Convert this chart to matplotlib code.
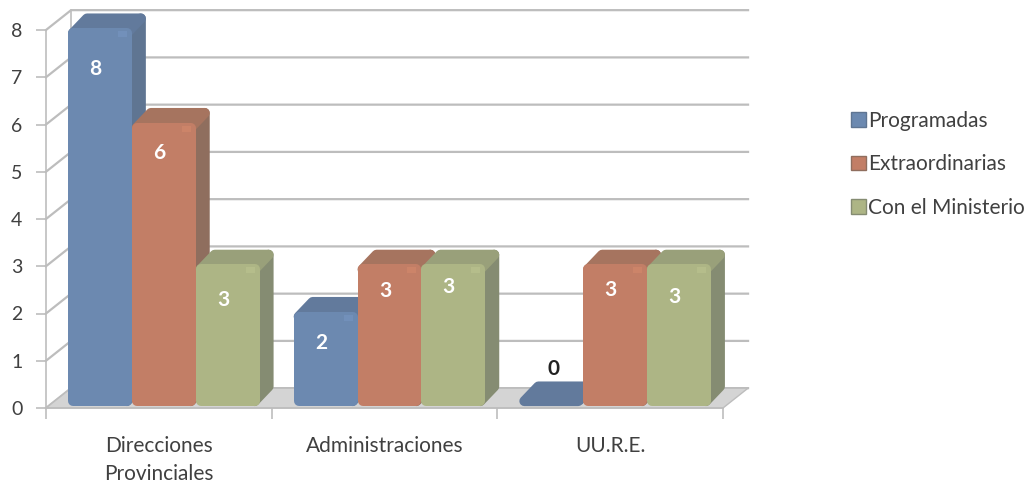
import matplotlib
matplotlib.use("Agg")
import matplotlib.pyplot as plt
from matplotlib.patches import Patch, Polygon

categories = ["Direcciones\nProvinciales", "Administraciones", "UU.R.E."]
series_names = ["Programadas", "Extraordinarias", "Con el Ministerio"]
programadas = [8, 2, 0]
extraordinarias = [6, 3, 3]
ministerio = [3, 3, 3]
y_ticks = [0, 1, 2, 3, 4, 5, 6, 7, 8]

front_colors = ["#6C89B0", "#C27E66", "#ADB585"]
shine_colors = ["#7797C4", "#D68A6C", "#BCC590"]
side_colors = ["#5F7592", "#8F6E5E", "#858C72"]
top_colors = ["#627A9C", "#A6745F", "#99A07A"]
grid_color = "#BDBDBD"
text_color = "#404040"

# where each value label sits below the bar top (not the same on every bar in the original)
label_drop = [[0.82, 0.6, 0.72], [0.62, 0.52, 0.43], [-0.83, 0.5, 0.65]]

# depth of the fake 3d box, in data units
wall_dx, wall_dy = 0.111, 0.42
bar_dx, bar_dy = 0.062, 0.31
bar_w = 0.283
bar_base = 0.04

W, H = 1030, 484
px_x = 3 / 677
px_y = 8 / 378
# corners are rounded with a thick round-joined edge, so shapes get pulled in by the radius
radius = 5
edge_lw = 2 * radius * 72 / 100

plt.rcParams["font.family"] = ["Lato", "DejaVu Sans"]

fig = plt.figure(figsize=(W / 100, H / 100), dpi=100)
ax = fig.add_axes([46 / W, (H - 408) / H, 677 / W, 378 / H])
ax.set_xlim(0, 3)
ax.set_ylim(0, 8)
ax.patch.set_alpha(0)

for name in ["top", "right"]:
    ax.spines[name].set_visible(False)
for name in ["left", "bottom"]:
    ax.spines[name].set_color(grid_color)
    ax.spines[name].set_linewidth(1.2)
    ax.spines[name].set_zorder(3)

# back wall
for v in y_ticks:
    ax.plot([0, wall_dx, 3 + wall_dx], [v, v + wall_dy, v + wall_dy], color=grid_color,
            lw=1.6, clip_on=False, zorder=1)
ax.plot([wall_dx, wall_dx], [wall_dy, 8 + wall_dy], color=grid_color, lw=1.2, clip_on=False, zorder=1)

# floor
ax.add_patch(Polygon([(0, 0), (wall_dx, wall_dy), (3 + wall_dx, wall_dy), (3, 0)], closed=True,
                     facecolor="#D4D4D4", edgecolor=grid_color, lw=1, clip_on=False, zorder=2))

z = 4
for g in range(len(categories)):
    for s, values in enumerate([programadas, extraordinarias, ministerio]):
        v = values[g]
        x0 = g + 0.0975 + s * bar_w + radius * px_x
        x1 = x0 + bar_w - 2 * radius * px_x
        y0 = bar_base + radius * px_y
        y1 = bar_base + v - radius * px_y
        if v == 0:
            y1 = y0
        ax.add_patch(Polygon([(x1, y0), (x1 + bar_dx, y0 + bar_dy), (x1 + bar_dx, y1 + bar_dy), (x1, y1)],
                             closed=True, facecolor=side_colors[s], edgecolor=side_colors[s], lw=edge_lw,
                             joinstyle="round", clip_on=False, zorder=z))
        ax.add_patch(Polygon([(x0, y1), (x0 + bar_dx, y1 + bar_dy), (x1 + bar_dx, y1 + bar_dy), (x1, y1)],
                             closed=True, facecolor=top_colors[s], edgecolor=top_colors[s], lw=edge_lw,
                             joinstyle="round", clip_on=False, zorder=z))
        xc = (x0 + x1) / 2 - 0.02
        if v > 0:
            ax.bar(x0, y1 - y0, width=x1 - x0, bottom=y0, align="edge", color=front_colors[s],
                   edgecolor=front_colors[s], lw=edge_lw, joinstyle="round", clip_on=False, zorder=z + 0.5)
            # small glare in the top right corner of the front face
            ax.bar(x1 - 0.04, 6 * px_y, width=0.04, bottom=y1 - 4 * px_y, align="edge", color=shine_colors[s],
                   lw=0, alpha=0.55, zorder=z + 0.6)
            ax.text(xc, v - label_drop[g][s], str(v), color="white", fontsize=15, fontweight="bold",
                    ha="center", va="center", zorder=40)
        else:
            ax.text(xc + 0.03, v - label_drop[g][s], str(v), color="#222222", fontsize=15, fontweight="bold",
                    ha="center", va="center", zorder=40)
        z += 1

ax.set_yticks(y_ticks)
ax.set_xticks([0, 1, 2, 3])
ax.set_xticklabels([])
ax.set_xticks([0.5, 1.5, 2.5], minor=True)
ax.set_xticklabels(categories, minor=True, fontsize=15, color=text_color, linespacing=1.5)
ax.tick_params(axis="x", which="major", length=8, color=grid_color, width=1.2)
ax.tick_params(axis="x", which="minor", length=0, pad=20)
ax.tick_params(axis="y", length=7, color=grid_color, width=1.2, pad=10, labelsize=14, labelcolor=text_color)

handles = [Patch(facecolor=c, edgecolor=e) for c, e in zip(front_colors, side_colors)]
fig.legend(handles, series_names, loc="upper left", bbox_to_anchor=(851 / W, 1 - 111 / H), frameon=False,
           handlelength=0.72, handleheight=0.72, handletextpad=0.12, labelspacing=1.12,
           fontsize=15, labelcolor=text_color, borderpad=0, borderaxespad=0)

fig.savefig("out.png", dpi=100)
